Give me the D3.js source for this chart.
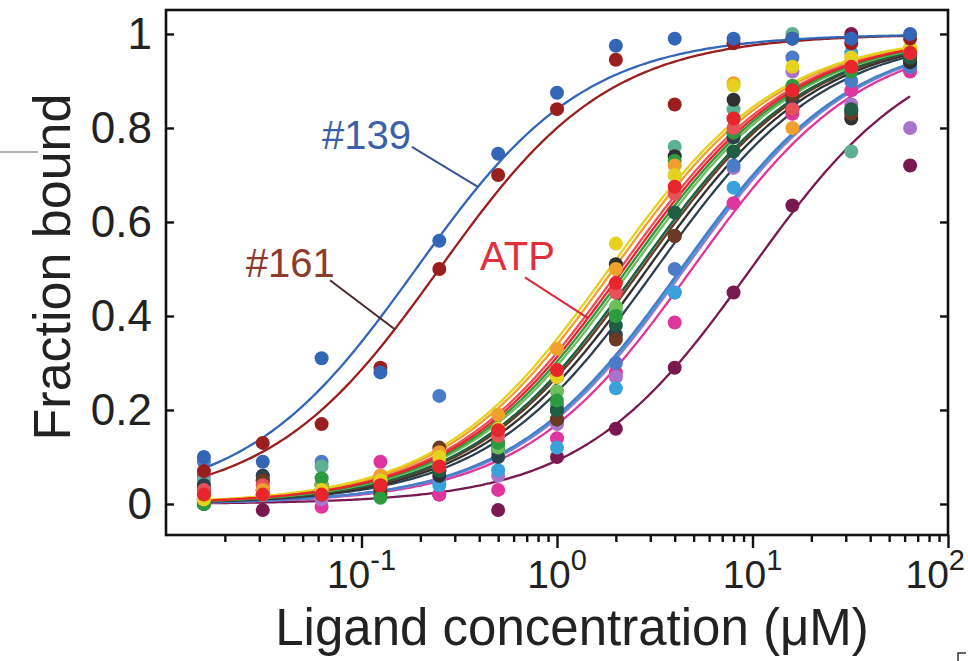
<!DOCTYPE html>
<html><head><meta charset="utf-8">
<script src="https://cdn.jsdelivr.net/npm/d3@7"></script>
<style>
html,body{margin:0;padding:0;background:#fff;}
svg{display:block;font-family:"Liberation Sans",Arial,Helvetica,sans-serif;}
</style></head>
<body>
<svg id="chart" width="968" height="661"></svg>
<script>
// ---- data ----
const concentrations = [1/64, 1/32, 1/16, 1/8, 1/4, 1/2, 1, 2, 4, 8, 16, 32, 64];
const seriesNames = ["#139","#161","ATP","yellow","orange","pinkred","green","lightgreen","darkgreen","brown","black","slate","teal","steelblue","cyan","violet","magenta","plum"];
const seriesColors = ["#3466b8","#9a1e1e","#e8242c","#e4d21e","#f0a02c","#e8505a","#2e9a40","#6cbf5a","#1f5e44","#6a3a22","#303030","#2c4050","#5fae96","#4a7cc8","#39a2dc","#a873c8","#e0359c","#7a1850"];
const kdValues = [0.19, 0.25, 2.2, 1.85, 1.95, 2.1, 2.3, 2.4, 2.6, 2.7, 2.9, 3.2, 2.6, 4.3, 4.4, 4.5, 4.9, 9.8];
const v139       = [0.10,0.09,0.31,0.28,0.56,0.745,0.875,0.975,0.99,0.99,0.99,0.99,1.0];
const v161       = [0.07,0.13,0.17,0.29,0.50,0.70,0.84,0.945,0.85,0.98,0.99,0.98,0.99];
const vATP       = [0.02,0.02,0.02,0.04,0.08,0.157,0.285,0.47,0.675,0.82,0.88,0.93,0.96];
const vYellow    = [0.01,0.02,0.03,0.05,0.10,0.16,0.27,0.554,0.70,0.89,0.93,0.95,0.97];
const vOrange    = [0.01,0.03,0.03,0.06,0.11,0.19,0.33,0.50,0.72,0.895,0.80,0.94,0.97];
const vPinkRed   = [0.03,0.04,0.03,0.06,0.09,0.145,0.27,0.45,0.66,0.80,0.84,0.93,0.96];
const vGreen     = [0.00,0.02,0.055,0.013,0.09,0.13,0.22,0.40,0.73,0.79,0.89,0.92,0.96];
const vLightGreen= [0.02,0.03,0.04,0.05,0.08,0.12,0.24,0.42,0.70,0.82,0.88,0.93,0.96];
const vDarkGreen = [0.01,0.03,0.02,0.04,0.07,0.13,0.20,0.38,0.62,0.75,0.88,0.84,0.95];
const vBrown     = [0.00,0.05,0.03,0.03,0.12,0.13,0.18,0.35,0.57,0.79,0.87,0.83,0.95];
const vBlack     = [0.03,0.05,0.04,0.02,0.06,0.12,0.20,0.51,0.74,0.86,0.84,0.82,0.94];
const vSlate     = [0.04,0.06,0.03,0.04,0.07,0.10,0.18,0.36,0.57,0.78,0.86,0.835,0.94];
const vTeal      = [0.05,0.03,0.08,0.05,0.09,0.11,0.21,0.41,0.76,0.84,1.0,0.75,0.95];
const vSteelBlue = [0.09,0.06,0.09,0.05,0.23,0.11,0.20,0.30,0.50,0.72,0.95,0.90,0.93];
const vCyan      = [0.00,0.02,0.02,0.03,0.04,0.072,0.12,0.246,0.45,0.673,0.86,0.96,0.93];
const vViolet    = [0.03,0.02,0.01,0.04,0.05,0.06,0.17,0.27,0.45,0.715,0.92,0.85,0.80];
const vMagenta   = [0.06,0.03,-0.006,0.09,0.02,0.03,0.14,0.28,0.386,0.64,0.83,0.88,0.92];
const vPlum      = [0.02,-0.013,0.02,0.03,0.02,-0.013,0.10,0.16,0.29,0.45,0.635,1.0,0.72];
const seriesValues = [v139,v161,vATP,vYellow,vOrange,vPinkRed,vGreen,vLightGreen,vDarkGreen,vBrown,vBlack,vSlate,vTeal,vSteelBlue,vCyan,vViolet,vMagenta,vPlum];
const yTickValues = [0, 0.2, 0.4, 0.6, 0.8, 1];
const yTickLabels = ["0","0.2","0.4","0.6","0.8","1"];
const xMajorExponents = [-1, 0, 1, 2];
const xLabel = "Ligand concentration (\u03bcM)";
const yLabel = "Fraction bound";
// annotations: text position and leader (in data units), pointing at a series' fitted curve
const annotationTexts = ["#139", "#161", "ATP"];
const annotationSeries = [0, 1, 2];
const annotationTextPos = [[0.0628, 0.756], [0.0256, 0.482], [0.404, 0.497]];
const annotationLeaderStart = [[0.181, 0.760], [0.069, 0.476], [0.685, 0.482]];
const annotationLeaderEndConc = [0.394, 0.148, 1.44];
const annotationTextColors = ["#3d5fa8", "#8e3a2c", "#e0303c"];
const annotationLineColors = ["#3a5590", "#4a2a2a", "#d8283a"];

// ---- layout ----
const svg = d3.select("#chart");
const x = d3.scaleLog().domain([0.01, 100]).range([166, 948]);
const y = d3.scaleLinear().domain([-0.066, 1.051]).range([535, 10]);
const hill = (c, k) => c / (k + c);

// curves + dots
const curveX = d3.range(0, 241).map(i => Math.pow(2, -6 + 12 * i / 240));
const line = d3.line().x(d => x(d[0])).y(d => y(d[1])).curve(d3.curveLinear);
const plot = svg.append("g");
const series = seriesNames.map((n, i) => ({name: n, color: seriesColors[i], kd: kdValues[i], values: seriesValues[i]}));
const order = [17,16,15,14,13,12,11,10,9,8,7,6,5,4,3,2,1,0];
order.forEach(i => {
  const s = series[i];
  plot.append("path")
    .attr("d", line(curveX.map(c => [c, hill(c, s.kd)])))
    .attr("fill", "none").attr("stroke", s.color).attr("stroke-width", 2.3);
});
order.forEach(i => {
  const s = series[i];
  plot.selectAll(null).data(s.values).join("circle")
    .attr("cx", (d, j) => x(concentrations[j]))
    .attr("cy", d => y(d))
    .attr("r", 7)
    .attr("fill", s.color);
});

// annotations
annotationTexts.forEach((t, i) => {
  const s = series[annotationSeries[i]];
  const ce = annotationLeaderEndConc[i];
  svg.append("line")
    .attr("x1", x(annotationLeaderStart[i][0])).attr("y1", y(annotationLeaderStart[i][1]))
    .attr("x2", x(ce)).attr("y2", y(hill(ce, s.kd)))
    .attr("stroke", annotationLineColors[i]).attr("stroke-width", 2);
  svg.append("text")
    .attr("x", x(annotationTextPos[i][0])).attr("y", y(annotationTextPos[i][1]))
    .attr("font-size", 40).attr("fill", annotationTextColors[i]).text(t);
});

// frame
svg.append("rect").attr("x", 166).attr("y", 10).attr("width", 782).attr("height", 525)
  .attr("fill", "none").attr("stroke", "#111").attr("stroke-width", 2.6);

// y axes (ticks inward on both sides)
const yAxisL = d3.axisLeft(y).tickValues(yTickValues).tickSize(-8).tickPadding(14)
  .tickFormat((d, i) => yTickLabels[i]);
const gL = svg.append("g").attr("transform", "translate(166,0)").call(yAxisL);
gL.select(".domain").remove();
gL.selectAll(".tick line").attr("stroke", "#111").attr("stroke-width", 2.4);
gL.selectAll(".tick text").attr("font-size", 44).attr("fill", "#222")
  .attr("font-family", "'Liberation Sans',Arial,sans-serif");
const yAxisR = d3.axisRight(y).tickValues(yTickValues).tickSize(-8).tickFormat("");
const gR = svg.append("g").attr("transform", "translate(948,0)").call(yAxisR);
gR.select(".domain").remove();
gR.selectAll(".tick line").attr("stroke", "#111").attr("stroke-width", 2.4);

// x axis: minor and major ticks outward
const minorTicks = [];
for (let e = -2; e < 2; e++) for (let m = 2; m <= 9; m++) minorTicks.push(m * Math.pow(10, e));
const majorTicks = xMajorExponents.map(e => Math.pow(10, e));
const gxMinor = svg.append("g").attr("transform", "translate(0,535)")
  .call(d3.axisBottom(x).tickValues(minorTicks).tickSize(7).tickFormat(""));
gxMinor.select(".domain").remove();
gxMinor.selectAll(".tick line").attr("stroke", "#111").attr("stroke-width", 2.4);
const gxMajor = svg.append("g").attr("transform", "translate(0,535)")
  .call(d3.axisBottom(x).tickValues(majorTicks).tickSize(13).tickFormat(""));
gxMajor.select(".domain").remove();
gxMajor.selectAll(".tick line").attr("stroke", "#111").attr("stroke-width", 2.4);
xMajorExponents.forEach(e => {
  const t = svg.append("text").attr("x", x(Math.pow(10, e))).attr("y", 588)
    .attr("text-anchor", "middle").attr("fill", "#222").attr("font-size", 39);
  t.append("tspan").text("10");
  t.append("tspan").attr("font-size", 29).attr("dy", -18).text(e < 0 ? "-" + (-e) : String(e));
  const bb = t.node().getBBox();
  if (bb.x + bb.width > 965) t.attr("x", x(Math.pow(10, e)) - (bb.x + bb.width - 965));
});

// axis titles
svg.append("text").attr("x", 572).attr("y", 645).attr("text-anchor", "middle")
  .attr("font-size", 51).attr("fill", "#222").text(xLabel);
svg.append("text").attr("transform", "translate(70,267) rotate(-90)").attr("text-anchor", "middle")
  .attr("font-size", 52).attr("fill", "#222").text(yLabel);

// stray cropping marks from the source figure
svg.append("line").attr("x1", 0).attr("x2", 38).attr("y1", 152).attr("y2", 152)
  .attr("stroke", "#999").attr("stroke-width", 1.5);
svg.append("path").attr("d", "M958,661 V653 H966").attr("fill", "none").attr("stroke", "#333").attr("stroke-width", 1.5);
</script>
</body></html>
